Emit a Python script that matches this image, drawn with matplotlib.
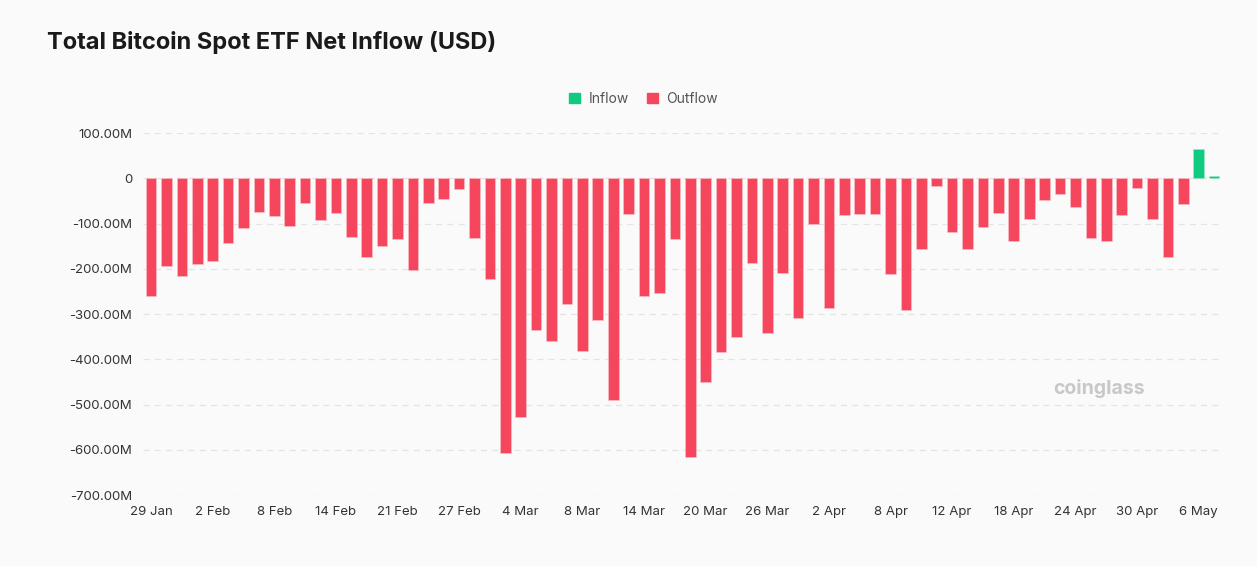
import numpy as np
import matplotlib.pyplot as plt
from matplotlib.patches import Patch

plt.rcParams['font.family'] = ['Inter', 'DejaVu Sans']

### data (millions USD), one bar per day shown ###
net_flow = [-261, -193, -215, -189, -182, -142, -109, -74, -83, -106,
            -54, -93, -76, -130, -174, -150, -134, -203, -54, -46,
            -23, -132, -222, -607, -527, -335, -360, -277, -382, -314,
            -489, -80, -260, -254, -135, -617, -451, -384, -351, -188,
            -341, -210, -309, -102, -286, -81, -78, -78, -211, -292,
            -157, -17, -118, -157, -108, -77, -138, -90, -47, -35,
            -64, -131, -138, -81, -22, -89, -174, -57, 64, 4]
tick_labels = ['29 Jan', '2 Feb', '8 Feb', '14 Feb', '21 Feb', '27 Feb',
               '4 Mar', '8 Mar', '14 Mar', '20 Mar', '26 Mar', '2 Apr',
               '8 Apr', '12 Apr', '18 Apr', '24 Apr', '30 Apr', '6 May']
tick_every = 4
y_ticks = [100, 0, -100, -200, -300, -400, -500, -600, -700]

RED = '#F6465D'
GREEN = '#0ECB81'
BG = '#FAFAFA'

x = np.arange(len(net_flow))
vals = np.array(net_flow)
colors = [GREEN if v >= 0 else RED for v in vals]
edges = ['#9FE8C9' if v >= 0 else '#F9C5CC' for v in vals]

fig = plt.figure(figsize=(12.57, 5.66), dpi=100, facecolor=BG)
ax = fig.add_axes([0.114, 0.1254, 0.858, 0.6396], facecolor=BG)

ax.bar(x, vals, width=0.69, color=colors, edgecolor=edges, linewidth=0.4, zorder=3)

ax.set_xlim(-0.5, len(vals) - 0.5)
ax.set_ylim(-700, 100)
ax.set_yticks(y_ticks)
ax.set_yticklabels(['0' if t == 0 else '%.2fM' % t for t in y_ticks])
ax.set_xticks(x[::tick_every])
ax.set_xticklabels(tick_labels)
ax.grid(axis='y', color='#E4E4E4', linestyle=(0, (5, 4)), linewidth=0.9, zorder=0)
for s in ax.spines.values():
    s.set_visible(False)
ax.tick_params(axis='both', length=0, labelsize=9.5, colors='#333333')
ax.tick_params(axis='x', pad=8)
ax.tick_params(axis='y', pad=8)

fig.text(47/1257, 1 - 42/566, 'Total Bitcoin Spot ETF Net Inflow (USD)',
         fontsize=17, fontweight='bold', color='#1A1A1A', va='center')

handles = [Patch(color=GREEN, label='Inflow'), Patch(color=RED, label='Outflow')]
leg = fig.legend(handles=handles, loc='center', bbox_to_anchor=(0.512, 1 - 99/566),
                 ncol=2, frameon=False, fontsize=10, handlelength=0.8,
                 handleheight=0.8, handletextpad=0.6, columnspacing=1.3)
for t in leg.get_texts():
    t.set_color('#555555')

# watermark
fig.text(1099/1257, 1 - 389/566, 'coinglass', fontsize=14, fontweight='bold',
         color='#C8C8C8', ha='center', va='center')

fig.savefig('out.png', dpi=100, facecolor=BG)
